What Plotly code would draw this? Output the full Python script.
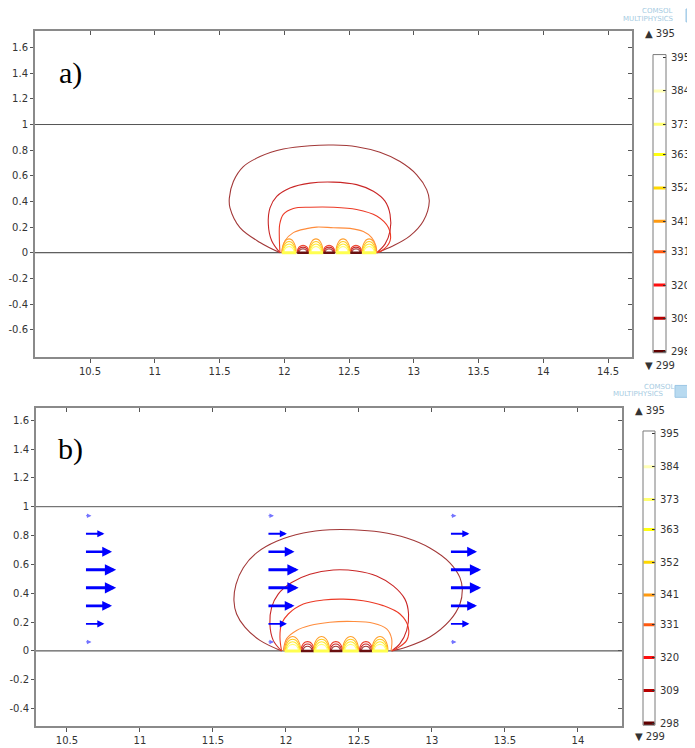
import math
import plotly.graph_objects as go

# ---------------- data ----------------
levels = [298, 309, 320, 331, 341, 352, 363, 373, 384, 395]
bar_colors = ['#600000', '#b80000', '#ff1010', '#ff5a10', '#ff9a10', '#ffd800',
              '#ffff10', '#ffff70', '#ffffb4', '#ffffff']
t_max_label = '▲ 395'
t_min_label = '▼ 299'

# panel a) contour lines (x, y read from the picture)
a_309_x = [11.967, 11.813, 11.658, 11.581, 11.576, 11.607, 11.684, 11.813, 11.993, 12.199, 12.379,
           12.559, 12.739, 12.894, 13.023, 13.100, 13.120, 13.074, 12.971, 12.842, 12.714]
a_309_y = [0.0, 0.080, 0.196, 0.350, 0.427, 0.556, 0.672, 0.750, 0.809, 0.835, 0.840,
           0.827, 0.783, 0.711, 0.608, 0.492, 0.402, 0.247, 0.131, 0.054, 0.0]
a_320_x = [11.967, 11.903, 11.877, 11.890, 11.942, 12.044, 12.199, 12.379, 12.559, 12.688, 12.778,
           12.817, 12.817, 12.778, 12.714]
a_320_y = [0.0, 0.093, 0.222, 0.350, 0.440, 0.505, 0.543, 0.551, 0.531, 0.479, 0.402,
           0.299, 0.170, 0.067, 0.0]
a_331_x = [11.967, 11.962, 11.965, 11.993, 12.070, 12.199, 12.379, 12.559, 12.714, 12.804, 12.817,
           12.752, 12.714]
a_331_y = [0.0, 0.118, 0.222, 0.299, 0.345, 0.355, 0.355, 0.337, 0.286, 0.196, 0.093, 0.015, 0.0]
a_341_x = [11.980, 12.006, 12.070, 12.173, 12.250, 12.379, 12.508, 12.611, 12.675, 12.708, 12.714]
a_341_y = [0.0, 0.093, 0.157, 0.188, 0.200, 0.195, 0.190, 0.165, 0.118, 0.054, 0.0]

# panel b) contour lines
b_309_x = [11.970, 11.822, 11.719, 11.662, 11.644, 11.658, 11.708, 11.799, 11.936, 12.119, 12.301,
           12.461, 12.644, 12.827, 12.986, 13.123, 13.192, 13.208, 13.192, 13.123, 12.986, 12.827, 12.724]
b_309_y = [0.0, 0.073, 0.165, 0.256, 0.348, 0.462, 0.577, 0.680, 0.760, 0.817, 0.840,
           0.840, 0.824, 0.783, 0.714, 0.611, 0.508, 0.428, 0.325, 0.211, 0.096, 0.027, 0.0]
b_320_x = [11.970, 11.913, 11.890, 11.902, 11.947, 12.039, 12.164, 12.324, 12.484, 12.621, 12.735,
           12.815, 12.840, 12.827, 12.781, 12.724]
b_320_y = [0.0, 0.073, 0.188, 0.302, 0.394, 0.474, 0.531, 0.561, 0.554, 0.520, 0.451,
           0.359, 0.256, 0.142, 0.050, 0.0]
b_331_x = [11.970, 11.959, 11.970, 12.016, 12.119, 12.256, 12.393, 12.529, 12.666, 12.781, 12.838,
           12.827, 12.758, 12.724]
b_331_y = [0.0, 0.096, 0.188, 0.256, 0.325, 0.353, 0.359, 0.348, 0.314, 0.256, 0.165, 0.073, 0.016, 0.0]
b_341_x = [11.982, 12.005, 12.073, 12.164, 12.301, 12.461, 12.598, 12.690, 12.724, 12.720]
b_341_y = [0.0, 0.085, 0.142, 0.176, 0.199, 0.204, 0.192, 0.153, 0.085, 0.0]

# heated strips (sources) and gaps between them
a_source_centers = [12.037, 12.245, 12.454, 12.655]
a_gap_centers = [12.145, 12.346, 12.554]
b_source_centers = [12.046, 12.244, 12.443, 12.644]
b_gap_centers = [12.148, 12.342, 12.548]
source_levels = [352, 363, 373, 384]
a_source_heights = [0.108, 0.088, 0.068, 0.048]
b_source_heights = [0.100, 0.081, 0.063, 0.045]
source_halfwidths = [0.055, 0.050, 0.045, 0.040]
gap_levels = [331, 320, 309]
a_gap_heights = [0.058, 0.044, 0.030]
b_gap_heights = [0.064, 0.048, 0.032]
gap_halfwidths = [0.045, 0.038, 0.031]

# velocity arrows (panel b)
arrow_columns = [10.62, 11.87, 13.12]
arrow_rows = [0.0625, 0.1875, 0.3125, 0.4375, 0.5625, 0.6875, 0.8125, 0.9375]
arrow_speed = [0.22, 0.63, 0.87, 1.0, 1.0, 0.87, 0.63, 0.22]
arrow_scale = 0.217

boundary_y = [0, 1]

xa_ticks = [10.5, 11, 11.5, 12, 12.5, 13, 13.5, 14, 14.5]
xa_labels = ['10.5', '11', '11.5', '12', '12.5', '13', '13.5', '14', '14.5']
ya_ticks = [1.6, 1.4, 1.2, 1, 0.8, 0.6, 0.4, 0.2, 0, -0.2, -0.4, -0.6]
ya_labels = ['1.6', '1.4', '1.2', '1', '0.8', '0.6', '0.4', '0.2', '0', '-0.2', '-0.4', '-0.6']
xb_ticks = [10.5, 11, 11.5, 12, 12.5, 13, 13.5, 14]
xb_labels = ['10.5', '11', '11.5', '12', '12.5', '13', '13.5', '14']
yb_ticks = [1.6, 1.4, 1.2, 1, 0.8, 0.6, 0.4, 0.2, 0, -0.2, -0.4]
yb_labels = ['1.6', '1.4', '1.2', '1', '0.8', '0.6', '0.4', '0.2', '0', '-0.2', '-0.4']

# ---------------- styling ----------------
line_colors = {298: '#6a0a0a', 309: '#a23838', 320: '#c92626', 331: '#ec3a26', 341: '#ff8c3c',
               352: '#ffa030', 363: '#ffcc20', 373: '#ffea30', 384: '#ffff70'}
OFF = 8                    # browser body margin
W, H = 695 - OFF, 748 - OFF
FONT = 'DejaVu Sans'
TXT = '#333333'
FRAME = '#8a8a8a'

fig = go.Figure()


def add_line(xs, ys, color, xa, ya, width=1.1, spline=True):
    fig.add_trace(go.Scatter(
        x=xs, y=ys, mode='lines',
        line=dict(color=color, width=width, shape='spline' if spline else 'linear', smoothing=1.0),
        xaxis=xa, yaxis=ya, hoverinfo='skip', showlegend=False))


def arch(c, hw, h, n=11):
    ts = [math.pi * i / (n - 1) for i in range(n)]
    return [c - hw * math.cos(t) for t in ts], [h * math.sin(t) for t in ts]


def panel(xa, ya, contours, src_c, gap_c, src_h, gap_h):
    for lvl, xs, ys in contours:
        add_line(xs, ys, line_colors[lvl], xa, ya)
    for c in gap_c:
        for lvl, h, hw in zip(gap_levels, gap_h, gap_halfwidths):
            ax_, ay_ = arch(c, hw, h)
            add_line(ax_, ay_, line_colors[lvl], xa, ya)
    for c in src_c:
        for lvl, h, hw in zip(source_levels, src_h, source_halfwidths):
            ax_, ay_ = arch(c, hw, h)
            add_line(ax_, ay_, line_colors[lvl], xa, ya)
    for c in gap_c:
        add_line([c - gap_halfwidths[0], c + gap_halfwidths[0]], [0, 0], '#6a1010', xa, ya, 2.5, False)
    for c in src_c:
        add_line([c - source_halfwidths[0], c + source_halfwidths[0]], [0, 0], '#ffff50', xa, ya, 3, False)


panel('x', 'y', [(309, a_309_x, a_309_y), (320, a_320_x, a_320_y), (331, a_331_x, a_331_y),
                 (341, a_341_x, a_341_y)], a_source_centers, a_gap_centers, a_source_heights, a_gap_heights)
panel('x2', 'y2', [(309, b_309_x, b_309_y), (320, b_320_x, b_320_y), (331, b_331_x, b_331_y),
                   (341, b_341_x, b_341_y)], b_source_centers, b_gap_centers, b_source_heights, b_gap_heights)

# colour legends (discrete level bars)
for xa, ya in (('x3', 'y3'), ('x4', 'y4')):
    for lvl, col in zip(levels, bar_colors):
        add_line([0.04, 0.96], [lvl, lvl], col, xa, ya, 3.5 if lvl == 298 else 3, False)

# dummy traces to activate mirror-tick overlay axes
for xa, ya in (('x5', 'y5'), ('x6', 'y6')):
    fig.add_trace(go.Scatter(x=[None], y=[None], xaxis=xa, yaxis=ya, showlegend=False, hoverinfo='skip'))


# ---------------- layout ----------------
def px_x(p):
    return (p - OFF) / W


def px_y(p):
    return 1 - (p - OFF) / H


xa_range = [10.0753, 14.6853]
ya_range = [-0.811, 1.731]
xb_range = [10.288, 14.302]
yb_range = [-0.522, 1.683]

tickfont = dict(family=FONT, size=10, color=TXT)
base_x = dict(showline=True, linecolor=FRAME, linewidth=2, mirror=True, ticks='outside', ticklen=4,
              tickcolor='#555555', showgrid=False, zeroline=False, tickfont=tickfont, fixedrange=True)
base_y = dict(base_x)
base_y['ticklen'] = 3
mirror_ax = dict(ticks='inside', ticklen=4, tickcolor='#555555', showticklabels=False, showline=False,
                 showgrid=False, zeroline=False, fixedrange=True)
cbar_y = dict(side='right', tickvals=levels, ticktext=[str(v) for v in levels], ticks='inside', ticklen=3,
              tickcolor='#333333', showline=False, showgrid=False, zeroline=False,
              tickfont=tickfont, ticklabelstandoff=4, fixedrange=True)

fig.update_layout(
    width=W, height=H, margin=dict(l=0, r=0, t=0, b=0),
    paper_bgcolor='white', plot_bgcolor='white', showlegend=False,
    xaxis=dict(base_x, domain=[px_x(35), px_x(632)], range=xa_range, anchor='y',
               tickvals=xa_ticks, ticktext=xa_labels),
    yaxis=dict(base_y, domain=[px_y(357), px_y(28)], range=ya_range, anchor='x',
               tickvals=ya_ticks, ticktext=ya_labels),
    xaxis2=dict(base_x, domain=[px_x(36), px_x(622)], range=xb_range, anchor='y2',
                tickvals=xb_ticks, ticktext=xb_labels),
    yaxis2=dict(base_y, domain=[px_y(730), px_y(409)], range=yb_range, anchor='x2',
                tickvals=yb_ticks, ticktext=yb_labels),
    xaxis5=dict(mirror_ax, overlaying='x', anchor='y5', side='top', range=xa_range, tickvals=xa_ticks),
    yaxis5=dict(mirror_ax, overlaying='y', anchor='x5', side='right', range=ya_range, tickvals=ya_ticks),
    xaxis6=dict(mirror_ax, overlaying='x2', anchor='y6', side='top', range=xb_range, tickvals=xb_ticks),
    yaxis6=dict(mirror_ax, overlaying='y2', anchor='x6', side='right', range=yb_range, tickvals=yb_ticks),
    xaxis3=dict(domain=[px_x(653), px_x(666)], range=[0, 1], visible=False, anchor='y3', fixedrange=True),
    yaxis3=dict(cbar_y, domain=[px_y(353), px_y(52)], range=[297.67, 395.98], anchor='x3'),
    xaxis4=dict(domain=[px_x(643), px_x(655)], range=[0, 1], visible=False, anchor='y4', fixedrange=True),
    yaxis4=dict(cbar_y, domain=[px_y(729), px_y(432)], range=[297.34, 396.0], anchor='x4'),
)

shapes = []
for xr, yr in (('x domain', 'y'), ('x2 domain', 'y2')):
    for by in boundary_y:
        shapes.append(dict(type='line', xref=xr, yref=yr, x0=0, x1=1, y0=by, y1=by, layer='below',
                           line=dict(color='#555555' if by == 1 else '#333333', width=1)))
for xr, yr in (('x3 domain', 'y3 domain'), ('x4 domain', 'y4 domain')):
    shapes.append(dict(type='rect', xref=xr, yref=yr, x0=0, x1=1, y0=0, y1=1, layer='above',
                       line=dict(color='#7a7a7a', width=1), fillcolor='rgba(0,0,0,0)'))
# logo cubes
shapes.append(dict(type='rect', xref='paper', yref='paper', x0=px_x(686), x1=px_x(695), y0=px_y(19),
                   y1=px_y(6), line=dict(color='#9cc6e4', width=1), fillcolor='#b8daf0'))
shapes.append(dict(type='rect', xref='paper', yref='paper', x0=px_x(675), x1=px_x(689), y0=px_y(398),
                   y1=px_y(386), line=dict(color='#9cc6e4', width=1), fillcolor='#b8daf0'))

annotations = []
# velocity arrows
for cx in arrow_columns:
    for ry, sp in zip(arrow_rows, arrow_speed):
        w = max(1.0, 3.0 * sp)
        col = '#0000ff' if sp > 0.5 else '#7474ff'
        annotations.append(dict(x=cx + arrow_scale * sp, y=ry, ax=cx, ay=ry, xref='x2', yref='y2',
                                axref='x2', ayref='y2', text='', showarrow=True, arrowhead=2,
                                arrowsize=0.75 if sp > 0.5 else 0.9, arrowwidth=w, arrowcolor=col))
# panel labels
annotations.append(dict(x=10.346, y=1.40, xref='x', yref='y', text='a)', showarrow=False,
                        font=dict(family='Liberation Serif', size=30, color='black')))
annotations.append(dict(x=10.527, y=1.40, xref='x2', yref='y2', text='b)', showarrow=False,
                        font=dict(family='Liberation Serif', size=30, color='black')))
# min / max markers
for (x0, y0, txt) in ((643, 31, t_max_label), (643, 366, t_min_label),
                      (633, 411, t_max_label), (633, 740, t_min_label)):
    annotations.append(dict(x=px_x(x0), y=px_y(y0), xref='paper', yref='paper', text=txt,
                            showarrow=False, xanchor='left', yanchor='middle',
                            font=dict(family=FONT, size=10, color=TXT)))
# logo text
for (cx, cy, txt) in ((657, 8, 'COMSOL'), (648, 16, 'MULTIPHYSICS'),
                      (659, 388, 'COMSOL'), (638, 395, 'MULTIPHYSICS')):
    annotations.append(dict(x=px_x(cx), y=px_y(cy), xref='paper', yref='paper', text=txt,
                            showarrow=False, xanchor='center', yanchor='middle',
                            font=dict(family=FONT, size=7, color='#a6cbe2')))

fig.update_layout(shapes=shapes, annotations=annotations)
fig.write_html('out.html')
